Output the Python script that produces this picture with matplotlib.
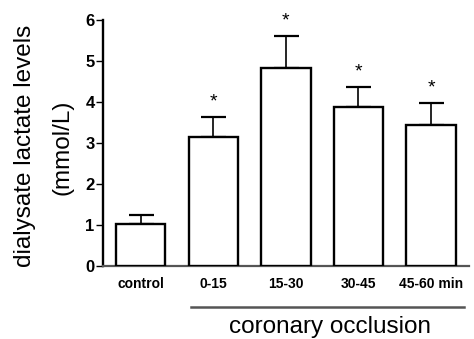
import matplotlib
matplotlib.use('Agg')
import matplotlib.pyplot as plt
import matplotlib.transforms as mtransforms

plt.rcParams['font.family'] = ['Liberation Sans', 'DejaVu Sans']

GROUPS = ['control', '0-15', '15-30', '30-45', '45-60 min']
LACTATE = [1.03, 3.15, 4.83, 3.88, 3.44]
SEM = [0.22, 0.48, 0.78, 0.49, 0.54]
SIGNIFICANT = [False, True, True, True, True]

fig = plt.figure(figsize=(4.74, 3.39), dpi=100)
ax = fig.add_axes([0.217, 0.215, 0.772, 0.726])

x = list(range(len(GROUPS)))
ax.bar(x, LACTATE, width=0.68, color='white', edgecolor='black', linewidth=1.7, zorder=3)
ax.errorbar(x, LACTATE, yerr=[[0] * len(SEM), SEM], fmt='none', ecolor='black',
            elinewidth=1.2, capsize=9, capthick=1.6, zorder=2)

for xi, val, err, sig in zip(x, LACTATE, SEM, SIGNIFICANT):
    if sig:
        ax.annotate('*', (xi, val + err), xytext=(0, 11), textcoords='offset points',
                    ha='center', va='center', fontsize=14)

ax.set_xlim(-0.52, 4.52)
ax.set_ylim(0, 6)
ax.set_yticks(range(0, 7))
ax.set_xticks(x)
ax.set_xticklabels(GROUPS, fontsize=10, fontweight='bold')
ax.tick_params(axis='x', length=0, pad=8)
ax.tick_params(axis='y', length=5, width=1, pad=1, labelsize=12)
for lbl in ax.get_yticklabels():
    lbl.set_fontweight('bold')

ax.spines['top'].set_visible(False)
ax.spines['right'].set_visible(False)
ax.spines['left'].set_linewidth(1.7)
ax.spines['bottom'].set_linewidth(1.6)
ax.spines['bottom'].set_color('#555555')

# bracket under the occlusion groups
trans = mtransforms.blended_transform_factory(ax.transData, ax.transAxes)
ax.plot([0.70, 4.46], [-0.167, -0.167], color='#555555', lw=1.8, transform=trans, clip_on=False)
ax.text(2.61, -0.27, 'coronary occlusion', transform=trans, ha='center', va='baseline', fontsize=17.5)

fig.text(0.053, 0.569, 'dialysate lactate levels', rotation=90, ha='center', va='center', fontsize=17.5)
fig.text(0.131, 0.566, '(mmol/L)', rotation=90, ha='center', va='center', fontsize=17.5)

fig.savefig('out.png', dpi=100)
